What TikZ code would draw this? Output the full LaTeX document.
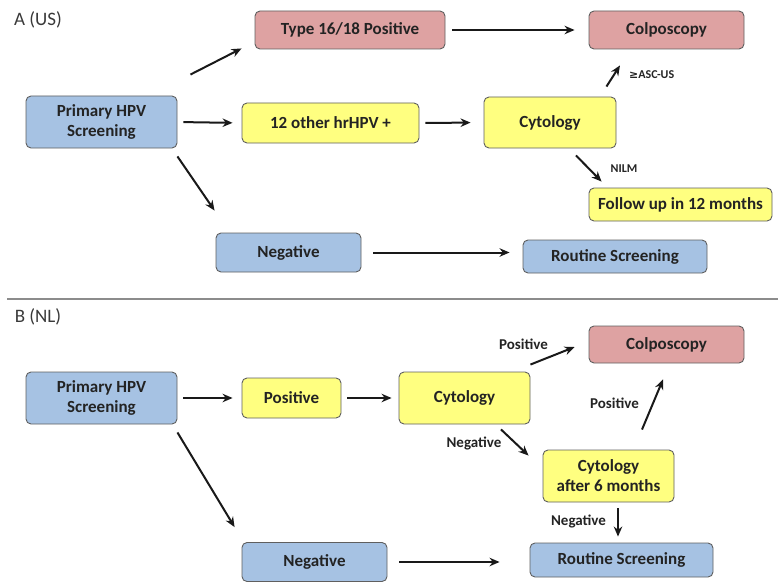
\documentclass[tikz,border=0pt]{standalone}
\usepackage{fontspec}
\setmainfont{Carlito}
\newfontfamily\symfont{DejaVu Sans}
\usetikzlibrary{arrows.meta}
\definecolor{bluefill}{RGB}{166,194,227}
\definecolor{pinkfill}{RGB}{222,162,162}
\definecolor{yellowfill}{RGB}{255,255,128}
\definecolor{edgegray}{RGB}{95,95,95}
\definecolor{txt}{RGB}{35,35,35}
\begin{document}
\begin{tikzpicture}[x=1pt,y=-1pt,
  box/.style={draw=edgegray, line width=0.9pt, rounded corners=5pt, inner sep=0pt,
    align=center, font=\fontsize{17}{20}\selectfont\bfseries, text=txt},
  bluebox/.style={box, fill=bluefill},
  pinkbox/.style={box, fill=pinkfill},
  yellowbox/.style={box, fill=yellowfill},
  arr/.style={-{Stealth[length=10pt,width=8.5pt]}, line width=2pt, draw=black!90},
  lbl/.style={font=\fontsize{15}{17}\selectfont\bfseries, text=txt, inner sep=0pt},
  smalllbl/.style={font=\fontsize{12}{14}\selectfont\bfseries, text=txt, inner sep=0pt},
  paneltitle/.style={font=\fontsize{19}{22}\selectfont, text=txt!90, inner sep=0pt},
]
\useasboundingbox (0,0) rectangle (778,583);

% ---------- Panel A ----------
\node[paneltitle] (ta) at (38,20) {A (US)};
\node[bluebox, minimum width=151pt, minimum height=52pt] (p1) at (101.5,122) {Primary HPV\\Screening};
\node[pinkbox, minimum width=190pt, minimum height=38pt] (t1) at (350,30) {Type 16/18 Positive};
\node[pinkbox, minimum width=155pt, minimum height=38pt] (c1) at (666.5,30) {Colposcopy};
\node[yellowbox, minimum width=177pt, minimum height=40pt] (o1) at (330.5,123) {12 other hrHPV +};
\node[yellowbox, minimum width=132pt, minimum height=51pt] (cy1) at (550,122.5) {Cytology};
\node[yellowbox, minimum width=183pt, minimum height=33pt] (f1) at (680.5,204.5) {Follow up in 12 months};
\node[bluebox, minimum width=145pt, minimum height=39pt] (n1) at (288.5,252.5) {Negative};
\node[bluebox, minimum width=184pt, minimum height=33pt] (r1) at (615,256.5) {Routine Screening};

\draw[arr] ([shift={(13,-21)}]p1.north east) -- ([shift={(-13,-1)}]t1.south west);
\draw[arr, shorten <=6pt, shorten >=9pt] (p1.east) -- (o1.west);
\draw[arr] ([shift={(0,8)}]p1.south east) -- ([shift={(-1,-22)}]n1.north west);
\draw[arr, shorten <=7pt, shorten >=14pt] (t1.east) -- (c1.west);
\draw[arr, shorten <=6pt, shorten >=13pt] (o1.east) -- (cy1.west);
\draw[arr] ([shift={(-10,-10)}]cy1.north east) -- ([shift={(-46.5,16)}]c1.south);
\node[smalllbl, anchor=west] (l1) at (629,75) {{\symfont\fontsize{11}{13}\selectfont ≥}ASC-US};
\draw[arr] ([shift={(26,7)}]cy1.south) -- ([shift={(13,-6)}]f1.north west);
\node[smalllbl] (l2) at (624,169) {NILM};
\draw[arr] ([xshift=12pt]n1.east) -- ([xshift=-13pt]r1.west |- n1.east);

% ---------- separator ----------
\draw[line width=1.4pt, draw=black!45] (7,299) -- (778,299);

% ---------- Panel B ----------
\node[paneltitle] (tb) at (38,317) {B (NL)};
\node[bluebox, minimum width=151pt, minimum height=52pt] (p2) at (101.5,398) {Primary HPV\\Screening};
\node[yellowbox, minimum width=99pt, minimum height=40pt] (pos2) at (291.5,398) {Positive};
\node[yellowbox, minimum width=131pt, minimum height=52pt] (cy2) at (464.5,398) {Cytology};
\node[pinkbox, minimum width=155pt, minimum height=37pt] (c2) at (666.5,344.5) {Colposcopy};
\node[yellowbox, minimum width=131pt, minimum height=52pt] (cs6) at (608.5,476) {Cytology\\after 6 months};
\node[bluebox, minimum width=145pt, minimum height=39pt] (n2) at (314.5,562) {Negative};
\node[bluebox, minimum width=183pt, minimum height=34pt] (r2) at (621.5,560) {Routine Screening};

\draw[arr, shorten <=6pt, shorten >=9pt] (p2.east) -- (pos2.west);
\draw[arr, shorten <=6pt, shorten >=7pt] (pos2.east) -- (cy2.west);
\draw[arr] ([shift={(0,8)}]p2.south east) -- ([shift={(-7,-15)}]n2.north west);
\draw[arr] ([shift={(0,-7)}]cy2.north east) -- ([shift={(-14,2.5)}]c2.west);
\node[lbl] (l3) at (523.5,344) {Positive};
\draw[arr] ([shift={(36.5,5)}]cy2.south) -- ([shift={(-14,6)}]cs6.north west);
\node[lbl] (l4) at (474,443) {Negative};
\draw[arr] ([shift={(33.5,-20)}]cs6.north) -- ([shift={(-3.5,16)}]c2.south);
\node[lbl] (l5) at (614.5,403) {Positive};
\draw[arr] ([shift={(9.5,6)}]cs6.south) -- ([shift={(-3.5,-6)}]r2.north);
\node[lbl] (l6) at (578.5,521) {Negative};
\draw[arr] ([xshift=12pt]n2.east) -- ([xshift=-30pt]r2.west |- n2.east);
\end{tikzpicture}
\end{document}
